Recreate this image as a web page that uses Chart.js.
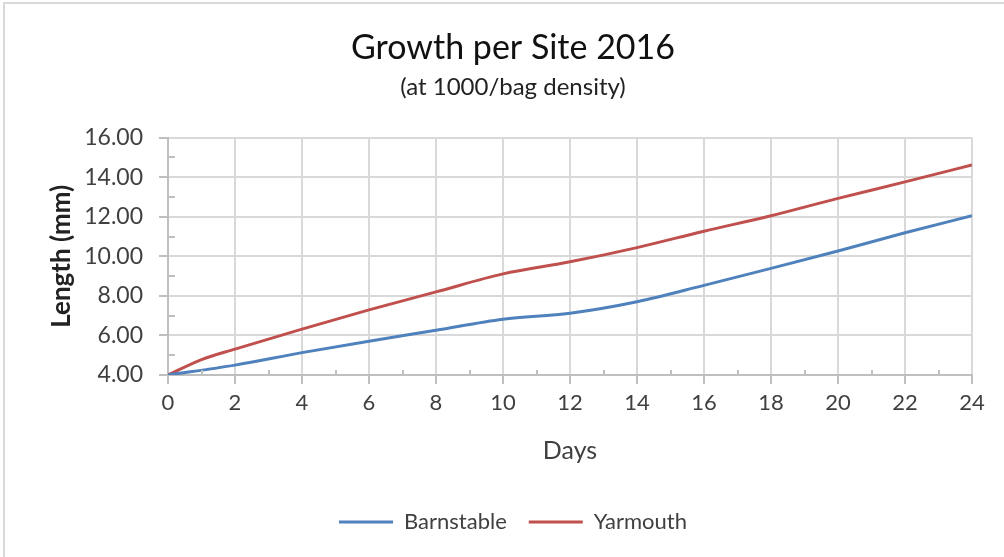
<!DOCTYPE html>
<html>
<head>
<meta charset="utf-8">
<script src="https://cdn.jsdelivr.net/npm/chart.js@4.4.1/dist/chart.umd.min.js"></script>
<style>
	html, body { margin: 0; padding: 0; background: #fff; overflow: hidden; }
	#frame { position: absolute; left: 3px; top: 2px; width: 1020px; height: 580px; border: 2px solid #d9d9d9; }
	#c { position: absolute; left: 0; top: 0; }
</style>
</head>
<body>
<div id="frame"></div>
<canvas id="c" width="1004" height="557"></canvas>
<script>
const seriesNames = ['Barnstable', 'Yarmouth'];
const barnstableDays = [0, 2, 4, 6, 8, 10, 12, 14, 16, 18, 20, 22, 24];
const barnstableLength = [4.00, 4.50, 5.13, 5.71, 6.26, 6.82, 7.12, 7.70, 8.53, 9.39, 10.27, 11.19, 12.05];
const yarmouthDays = [0, 1, 2, 4, 6, 8, 10, 12, 14, 16, 18, 20, 22, 24];
const yarmouthLength = [4.00, 4.78, 5.31, 6.32, 7.29, 8.20, 9.11, 9.72, 10.44, 11.27, 12.05, 12.93, 13.76, 14.62];

const FONT = 'Lato';
const TEXT = '#404040';
const GRID = '#d9d9d9';
const AXIS = '#bfbfbf';

const toPoints = (xs, ys) => {
	let res = []
	xs.forEach((x, i) => {
		res.push({x: x, y: ys[i]})
	})
	return res
}

// minor tick marks like the Excel axes
const minorTicks = {
	id: 'minorTicks',
	afterDraw(chart) {
		const ctx = chart.ctx;
		const xs = chart.scales.x, ys = chart.scales.y;
		const area = chart.chartArea;
		ctx.save();
		ctx.strokeStyle = AXIS;
		ctx.lineWidth = 2;
		ctx.beginPath();
		for (let v = 5; v < 16; v += 2) {
			const py = Math.round(ys.getPixelForValue(v));
			ctx.moveTo(area.left, py);
			ctx.lineTo(area.left + 7, py);
		}
		for (let v = 1; v < 24; v += 2) {
			const px = Math.round(xs.getPixelForValue(v));
			ctx.moveTo(px, area.bottom);
			ctx.lineTo(px, area.bottom - 5);
		}
		ctx.stroke();
		ctx.restore();
	}
};

const ctx = document.getElementById('c').getContext('2d');
new Chart(ctx, {
	type: 'line',
	data: {
		datasets: [
			{
				label: seriesNames[0],
				data: toPoints(barnstableDays, barnstableLength),
				borderColor: '#4f81bd',
				backgroundColor: '#4f81bd',
				borderWidth: 3,
				pointRadius: 0,
				fill: false,
				cubicInterpolationMode: 'monotone'
			},
			{
				label: seriesNames[1],
				data: toPoints(yarmouthDays, yarmouthLength),
				borderColor: '#c0504d',
				backgroundColor: '#c0504d',
				borderWidth: 3,
				pointRadius: 0,
				fill: false,
				cubicInterpolationMode: 'monotone'
			}
		]
	},
	options: {
		responsive: false,
		animation: false,
		layout: { padding: { left: 22, right: 0, top: 0, bottom: 14 } },
		plugins: {
			title: {
				display: true,
				text: 'Growth per Site 2016',
				color: '#111',
				font: { family: FONT, size: 34, weight: 'normal' },
				padding: { top: 28, bottom: 0 }
			},
			subtitle: {
				display: true,
				text: '(at 1000/bag density)',
				color: '#222',
				font: { family: FONT, size: 24, weight: 'normal' },
				padding: { top: 4, bottom: 36 }
			},
			legend: {
				position: 'bottom',
				labels: {
					font: { family: FONT, size: 22 },
					color: TEXT,
					boxWidth: 54,
					boxHeight: 3,
					padding: 22,
					generateLabels(chart) {
						return chart.data.datasets.map((ds, i) => ({
							text: ds.label,
							fillStyle: ds.borderColor,
							strokeStyle: ds.borderColor,
							lineWidth: 0,
							fontColor: TEXT,
							datasetIndex: i
						}))
					}
				}
			},
			tooltip: { enabled: false }
		},
		scales: {
			x: {
				type: 'linear',
				min: 0,
				max: 24,
				afterFit: (s) => { s.height = 114; },
				ticks: {
					stepSize: 2,
					color: TEXT,
					font: { family: FONT, size: 22 },
					padding: 6
				},
				grid: { color: GRID, lineWidth: 2, tickLength: 9, tickColor: AXIS },
				border: { color: AXIS, width: 2 },
				title: {
					display: true,
					text: 'Days',
					color: TEXT,
					font: { family: FONT, size: 25 },
					padding: { top: 0, bottom: 23 }
				}
			},
			y: {
				min: 4,
				max: 16,
				afterFit: (s) => { s.width = 146; },
				ticks: {
					stepSize: 2,
					color: TEXT,
					font: { family: FONT, size: 23 },
					padding: 16,
					callback: (v) => Number(v).toFixed(2)
				},
				grid: { color: GRID, lineWidth: 2, tickLength: 9, tickColor: AXIS },
				border: { color: AXIS, width: 2 },
				title: {
					display: true,
					text: 'Length (mm)',
					color: '#222',
					font: { family: FONT, size: 26, weight: 'bold' },
					padding: { top: 24, bottom: 0 }
				}
			},
			// empty right-hand margin, so the legend and titles sit centred like the original
			yRight: {
				position: 'right',
				min: 4,
				max: 16,
				afterFit: (s) => { s.width = 32; },
				ticks: { display: false },
				grid: { display: false, drawOnChartArea: false },
				border: { display: false }
			}
		}
	},
	plugins: [minorTicks]
});
</script>
</body>
</html>
